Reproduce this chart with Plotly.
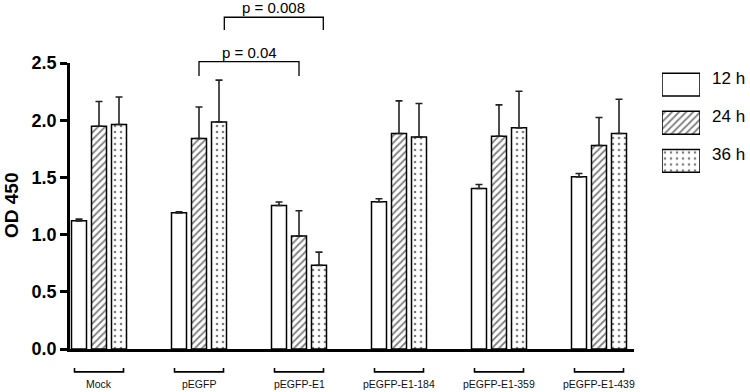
import plotly.graph_objects as go

categories = ["Mock", "pEGFP", "pEGFP-E1", "pEGFP-E1-184", "pEGFP-E1-359", "pEGFP-E1-439"]
series_names = ["12 h", "24 h", "36 h"]
v12 = [1.12, 1.19, 1.255, 1.287, 1.403, 1.505]
e12 = [0.015, 0.01, 0.03, 0.026, 0.035, 0.029]
v24 = [1.947, 1.84, 0.987, 1.884, 1.86, 1.779]
e24 = [0.216, 0.276, 0.221, 0.285, 0.274, 0.245]
v36 = [1.962, 1.985, 0.731, 1.854, 1.933, 1.884]
e36 = [0.241, 0.365, 0.116, 0.292, 0.32, 0.299]
y_ticks = [0.0, 0.5, 1.0, 1.5, 2.0, 2.5]
p_labels = ["p = 0.04", "p = 0.008"]

patterns = ["", "/", "."]
values = [v12, v24, v36]
errors = [e12, e24, e36]

X0, X1 = -0.29, 5.35
XDOM = 564 / 670.0

def xp(xd):
    return (xd - X0) / (X1 - X0) * XDOM

fig = go.Figure()
for name, vals, errs, pat in zip(series_names, values, errors, patterns):
    fig.add_trace(go.Bar(
        x=categories, y=vals, name=name,
        marker=dict(color="white", line=dict(color="black", width=1.5),
                    pattern=dict(shape=pat, fgcolor="black", bgcolor="white",
                                 size=5 if pat == "/" else 6,
                                 solidity=0.35 if pat == "/" else 0.15)),
        error_y=dict(type="data", array=errs, symmetric=False,
                     arrayminus=[0] * len(errs), color="#222",
                     thickness=1.6, width=3.5),
        showlegend=False, cliponaxis=False,
    ))

# legend boxes drawn as bars on a small helper axis
fig.add_trace(go.Bar(
    x=[1, 1, 1], y=[0, 1, 2], orientation="h", width=0.6,
    marker=dict(color="white", line=dict(color="black", width=1.5),
                pattern=dict(shape=patterns, fgcolor="black", bgcolor="white",
                             size=[6, 5, 6], solidity=[0.1, 0.35, 0.15])),
    xaxis="x2", yaxis="y2", showlegend=False, hoverinfo="skip",
))

shapes = []
annotations = []
# group brackets under axis
for i, c in enumerate(categories):
    a, b = xp(i - 0.245), xp(i + 0.245)
    shapes.append(dict(type="path", xref="paper", yref="paper",
                       path=f"M{a},-0.066 L{a},-0.080 L{b},-0.080 L{b},-0.066",
                       line=dict(color="black", width=1.6)))
    annotations.append(dict(x=i, xref="x", y=-0.123, yref="paper", text=c,
                            showarrow=False, xanchor="center", yanchor="middle",
                            font=dict(family="Liberation Sans Narrow, Arial Narrow, Liberation Sans",
                                      size=10.5, color="#111")))

# significance brackets
brackets = [(1.0, 2.0, 1.0045, 0.9545, 1.036), (1.253, 2.243, 1.16, 1.115, 1.193)]
for (xa, xb, ytop, yleg, ytxt), lab in zip(brackets, p_labels):
    a, b = xp(xa), xp(xb)
    shapes.append(dict(type="path", xref="paper", yref="paper",
                       path=f"M{a},{yleg} L{a},{ytop} L{b},{ytop} L{b},{yleg}",
                       line=dict(color="black", width=1.3)))
    annotations.append(dict(x=(a + b) / 2, xref="paper", y=ytxt, yref="paper",
                            text=lab, showarrow=False, xanchor="center", yanchor="middle",
                            font=dict(family="Liberation Sans, Arial", size=15, color="black")))

# legend text
leg_y = [0.9465, 0.813, 0.679]
for name, yy in zip(series_names, leg_y):
    annotations.append(dict(x=(710 - 70) / 670.0, xref="paper", y=yy, yref="paper",
                            text=name, showarrow=False, xanchor="left", yanchor="middle",
                            font=dict(family="Liberation Sans, Arial", size=17, color="black")))

# y axis title
annotations.append(dict(x=(11 - 70) / 670.0, xref="paper", y=0.5, yref="paper",
                        text="<b>OD 450</b>", textangle=-90, showarrow=False,
                        xanchor="center", yanchor="middle",
                        font=dict(family="Liberation Sans, Arial", size=19, color="black")))

fig.update_layout(
    width=750, height=392,
    margin=dict(l=70, r=10, t=63, b=43),
    paper_bgcolor="white", plot_bgcolor="white",
    barmode="group", bargap=0.4, bargroupgap=0.25,
    shapes=shapes, annotations=annotations,
    xaxis=dict(domain=[0, XDOM], range=[X0, X1], type="category",
               showline=True, linecolor="black", linewidth=3,
               ticks="", showticklabels=False, showgrid=False, zeroline=False,
               fixedrange=True),
    yaxis=dict(range=[0, 2.5], tickvals=y_ticks, ticktext=[f"<b>{t:.1f}</b>" for t in y_ticks],
               showline=True, linecolor="black", linewidth=2.5,
               ticks="outside", ticklen=7, tickwidth=2.5, tickcolor="black",
               tickfont=dict(family="Liberation Sans, Arial", size=18, color="black"),
               showgrid=False, zeroline=False, fixedrange=True),
    xaxis2=dict(domain=[(662 - 70) / 670.0, (700 - 70) / 670.0], range=[0, 1],
                anchor="y2", visible=False, fixedrange=True),
    yaxis2=dict(domain=[(349 - 180) / 286.0, (349 - 65.5) / 286.0], range=[2.5, -0.5],
                anchor="x2", visible=False, fixedrange=True),
    showlegend=False,
)

fig.write_html("out.html", config={"displayModeBar": False},
               post_script="document.body.style.margin='0';document.body.style.overflow='hidden';")
